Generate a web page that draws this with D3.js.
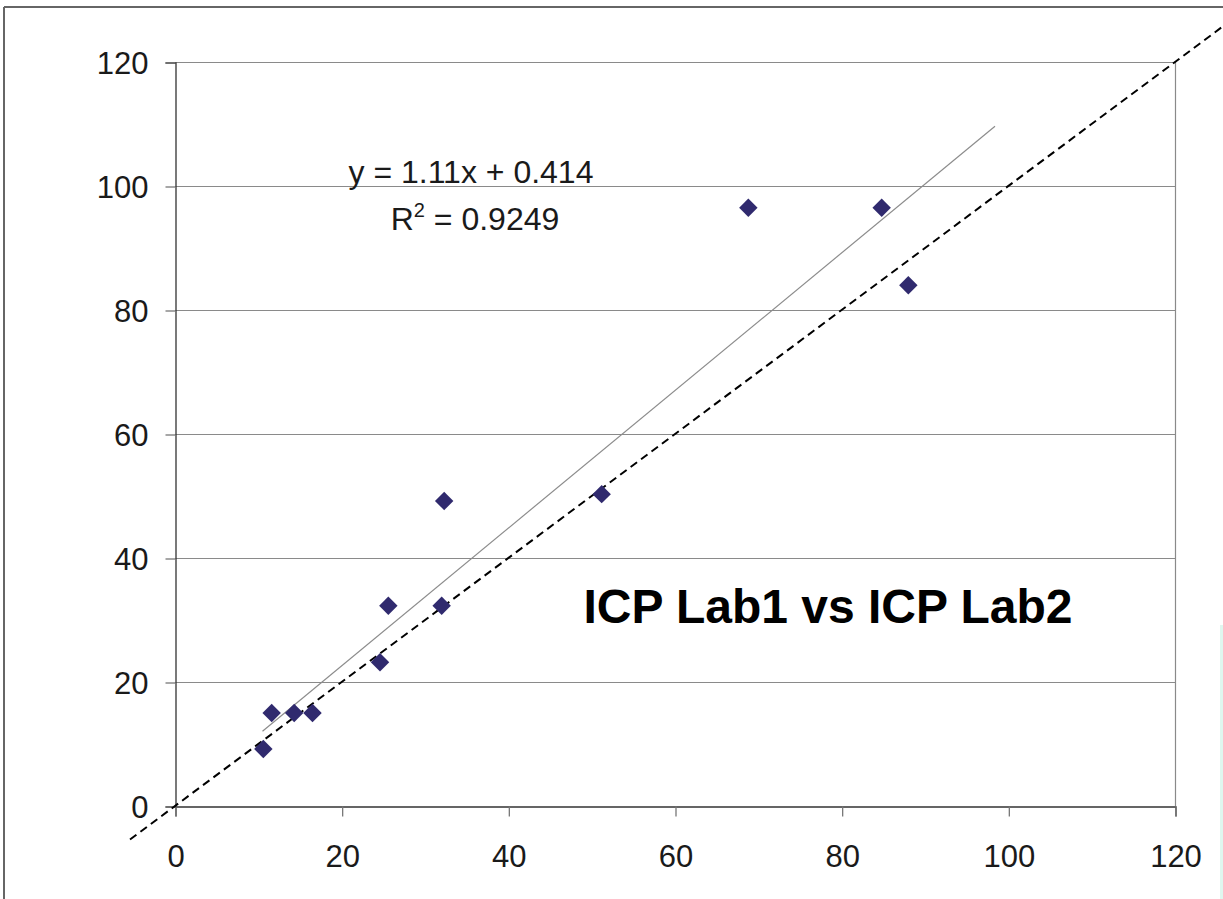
<!DOCTYPE html>
<html><head><meta charset="utf-8">
<script src="https://cdn.jsdelivr.net/npm/d3@7"></script>
<style>html,body{margin:0;padding:0;background:#fff;}svg{display:block;}</style>
</head><body>
<script>
const lab1 = [10.6, 11.6, 14.3, 16.5, 24.6, 25.6, 32.0, 32.3, 51.2, 68.8, 84.8, 88.0];
const lab2 = [9.2, 15.0, 15.0, 15.0, 23.2, 32.3, 32.3, 49.2, 50.3, 96.5, 96.5, 84.0];
const xTicks = [0, 20, 40, 60, 80, 100, 120];
const yTicks = [0, 20, 40, 60, 80, 100, 120];
const slope = 1.11, intercept = 0.414;
const trendRange = [10.5, 98.4];
const identityRange = [-5.4, 126.2];
const eqText = "y = 1.11x + 0.414";
const r2Value = "0.9249";
const title = "ICP Lab1 vs ICP Lab2";

const W = 1223, H = 899;
const svg = d3.select("body").append("svg").attr("width", W).attr("height", H);
const font = "Liberation Sans, Arial, sans-serif";

// outer border
svg.append("line").attr("x1", 4).attr("x2", W).attr("y1", 7).attr("y2", 7).attr("stroke", "#666").attr("stroke-width", 2);
svg.append("line").attr("x1", 4).attr("x2", 4).attr("y1", 7).attr("y2", H).attr("stroke", "#666").attr("stroke-width", 2);
svg.append("line").attr("x1", 1221.5).attr("x2", 1221.5).attr("y1", 625).attr("y2", H).attr("stroke", "#dff7ef").attr("stroke-width", 3);

const x = d3.scaleLinear().domain([0, 120]).range([175, 1175]);
const y = d3.scaleLinear().domain([0, 120]).range([806, 62]);

// gridlines
svg.append("g").selectAll("line").data(yTicks.filter(d => d > 0)).join("line")
  .attr("x1", x(0)).attr("x2", x(120)).attr("y1", d => y(d) + 0.5).attr("y2", d => y(d) + 0.5)
  .attr("stroke", "#8a8a8a").attr("stroke-width", 1.2);
// right border of plot
svg.append("line").attr("x1", x(120) + 0.5).attr("x2", x(120) + 0.5).attr("y1", y(120)).attr("y2", y(0))
  .attr("stroke", "#8a8a8a").attr("stroke-width", 1.2);

// axes
const yAxis = d3.axisLeft(y).tickValues(yTicks).tickSize(10).tickPadding(17).tickFormat(d3.format("d"));
const gy = svg.append("g").attr("transform", `translate(${x(0) + 0.5},0.5)`).call(yAxis);
const xAxis = d3.axisBottom(x).tickValues(xTicks).tickSize(10).tickPadding(28).tickFormat(d3.format("d"));
const gx = svg.append("g").attr("transform", `translate(0.5,${y(0) + 0.5})`).call(xAxis);
[gx, gy].forEach(g => {
  g.select(".domain").attr("stroke", "#333").attr("stroke-width", 1.3);
  g.selectAll(".tick line").attr("stroke", "#777").attr("stroke-width", 1.3);
  g.selectAll("text").attr("font-family", font).attr("font-size", 31).attr("fill", "#1a1a1a");
});
gy.selectAll("text").attr("dy", "0.36em");
gx.selectAll("text").attr("dy", "0.72em");

// trend line
svg.append("line")
  .attr("x1", x(trendRange[0])).attr("y1", y(slope * trendRange[0] + intercept))
  .attr("x2", x(trendRange[1])).attr("y2", y(slope * trendRange[1] + intercept))
  .attr("stroke", "#8c8c8c").attr("stroke-width", 1.2);

// identity dashed line
svg.append("line")
  .attr("x1", x(identityRange[0])).attr("y1", y(identityRange[0]))
  .attr("x2", x(identityRange[1])).attr("y2", y(identityRange[1]))
  .attr("stroke", "#000").attr("stroke-width", 2).attr("stroke-dasharray", "8,5");

// points
const pts = lab1.map((v, i) => ({ x: v, y: lab2[i] }));
svg.append("g").selectAll("path").data(pts).join("path")
  .attr("d", d3.symbol().type(d3.symbolSquare).size(170))
  .attr("transform", d => `translate(${x(d.x)},${y(d.y)}) rotate(45)`)
  .attr("fill", "#302a6e");

// equation
const eq = svg.append("g").attr("font-family", font).attr("font-size", 32).attr("fill", "#1a1a1a").attr("text-anchor", "middle");
eq.append("text").attr("x", 471).attr("y", 183).text(eqText);
const r2 = eq.append("text").attr("x", 475).attr("y", 230);
r2.append("tspan").text("R");
r2.append("tspan").attr("font-size", 20).attr("dy", -13).text("2");
r2.append("tspan").attr("dy", 13).text(" = " + r2Value);

// title
svg.append("text").attr("x", 828).attr("y", 623).attr("text-anchor", "middle")
  .attr("font-family", font).attr("font-size", 48).attr("font-weight", "bold").attr("fill", "#000")
  .text(title);
</script>
</body></html>
